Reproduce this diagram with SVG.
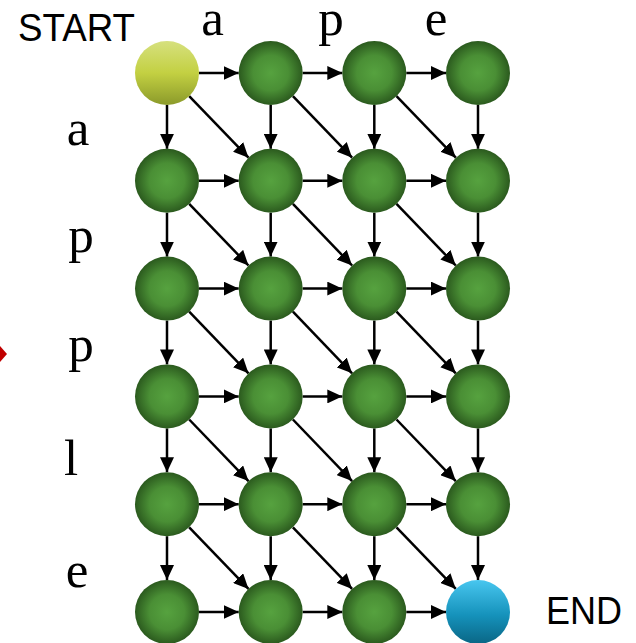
<svg xmlns="http://www.w3.org/2000/svg" width="636" height="643" viewBox="0 0 636 643">
<defs>
<radialGradient id="gGreen" cx="50%" cy="50%" r="50%">
<stop offset="0" stop-color="#56a23f"/>
<stop offset="0.55" stop-color="#4a8f35"/>
<stop offset="1" stop-color="#2b5a1e"/>
</radialGradient>
<linearGradient id="gStart" x1="0" y1="0" x2="0" y2="1">
<stop offset="0" stop-color="#d6e07e"/>
<stop offset="0.5" stop-color="#c3d042"/>
<stop offset="1" stop-color="#8b9a2a"/>
</linearGradient>
<linearGradient id="gEnd" x1="0" y1="0" x2="0" y2="1">
<stop offset="0" stop-color="#48c6ef"/>
<stop offset="0.55" stop-color="#1592bb"/>
<stop offset="1" stop-color="#0a6685"/>
</linearGradient>
<marker id="ah" markerUnits="userSpaceOnUse" markerWidth="15" markerHeight="14" refX="15" refY="7" orient="auto">
<path d="M0,0 L15,7 L0,14 z" fill="#000"/>
</marker>
</defs>
<style>
.e{stroke:#000;stroke-width:2.5;fill:none;marker-end:url(#ah)}
.n{fill:url(#gGreen)}
.lab{font-family:"Liberation Serif","Times New Roman",serif;font-size:51px;fill:#000;text-anchor:middle}
.sans{font-family:"Liberation Sans",Arial,sans-serif;font-size:39px;fill:#000}
</style>
<polygon points="0,346 7,354 0,362" fill="#c00000"/>
<g id="labels">
<text class="sans" x="18" y="41" textLength="117" lengthAdjust="spacingAndGlyphs">START</text>
<text class="sans" x="546" y="624" textLength="76" lengthAdjust="spacingAndGlyphs">END</text>
<text class="lab" x="212.5" y="35">a</text>
<text class="lab" x="331" y="35">p</text>
<text class="lab" x="436" y="35">e</text>
<text class="lab" x="78" y="145">a</text>
<text class="lab" x="81" y="252">p</text>
<text class="lab" x="81" y="361">p</text>
<text class="lab" x="71" y="475">l</text>
<text class="lab" x="77" y="587">e</text>
</g>
<g id="connectors">
<line class="e" x1="199" y1="73" x2="238.7" y2="73"/><line class="e" x1="302.7" y1="73" x2="342.3" y2="73"/><line class="e" x1="406.3" y1="73" x2="446" y2="73"/>
<line class="e" x1="199" y1="180.8" x2="238.7" y2="180.8"/><line class="e" x1="302.7" y1="180.8" x2="342.3" y2="180.8"/><line class="e" x1="406.3" y1="180.8" x2="446" y2="180.8"/>
<line class="e" x1="199" y1="288.6" x2="238.7" y2="288.6"/><line class="e" x1="302.7" y1="288.6" x2="342.3" y2="288.6"/><line class="e" x1="406.3" y1="288.6" x2="446" y2="288.6"/>
<line class="e" x1="199" y1="396.4" x2="238.7" y2="396.4"/><line class="e" x1="302.7" y1="396.4" x2="342.3" y2="396.4"/><line class="e" x1="406.3" y1="396.4" x2="446" y2="396.4"/>
<line class="e" x1="199" y1="504.2" x2="238.7" y2="504.2"/><line class="e" x1="302.7" y1="504.2" x2="342.3" y2="504.2"/><line class="e" x1="406.3" y1="504.2" x2="446" y2="504.2"/>
<line class="e" x1="199" y1="612" x2="238.7" y2="612"/><line class="e" x1="302.7" y1="612" x2="342.3" y2="612"/><line class="e" x1="406.3" y1="612" x2="446" y2="612"/>
<line class="e" x1="167" y1="105" x2="167" y2="148.8"/><line class="e" x1="167" y1="212.8" x2="167" y2="256.6"/><line class="e" x1="167" y1="320.6" x2="167" y2="364.4"/><line class="e" x1="167" y1="428.4" x2="167" y2="472.2"/><line class="e" x1="167" y1="536.2" x2="167" y2="580"/>
<line class="e" x1="270.7" y1="105" x2="270.7" y2="148.8"/><line class="e" x1="270.7" y1="212.8" x2="270.7" y2="256.6"/><line class="e" x1="270.7" y1="320.6" x2="270.7" y2="364.4"/><line class="e" x1="270.7" y1="428.4" x2="270.7" y2="472.2"/><line class="e" x1="270.7" y1="536.2" x2="270.7" y2="580"/>
<line class="e" x1="374.3" y1="105" x2="374.3" y2="148.8"/><line class="e" x1="374.3" y1="212.8" x2="374.3" y2="256.6"/><line class="e" x1="374.3" y1="320.6" x2="374.3" y2="364.4"/><line class="e" x1="374.3" y1="428.4" x2="374.3" y2="472.2"/><line class="e" x1="374.3" y1="536.2" x2="374.3" y2="580"/>
<line class="e" x1="478" y1="105" x2="478" y2="148.8"/><line class="e" x1="478" y1="212.8" x2="478" y2="256.6"/><line class="e" x1="478" y1="320.6" x2="478" y2="364.4"/><line class="e" x1="478" y1="428.4" x2="478" y2="472.2"/><line class="e" x1="478" y1="536.2" x2="478" y2="580"/>
<line class="e" x1="189.2" y1="96.1" x2="248.5" y2="157.7"/><line class="e" x1="292.9" y1="96.1" x2="352.1" y2="157.7"/><line class="e" x1="396.5" y1="96.1" x2="455.8" y2="157.7"/>
<line class="e" x1="189.2" y1="203.9" x2="248.5" y2="265.5"/><line class="e" x1="292.9" y1="203.9" x2="352.1" y2="265.5"/><line class="e" x1="396.5" y1="203.9" x2="455.8" y2="265.5"/>
<line class="e" x1="189.2" y1="311.7" x2="248.5" y2="373.3"/><line class="e" x1="292.9" y1="311.7" x2="352.1" y2="373.3"/><line class="e" x1="396.5" y1="311.7" x2="455.8" y2="373.3"/>
<line class="e" x1="189.2" y1="419.5" x2="248.5" y2="481.1"/><line class="e" x1="292.9" y1="419.5" x2="352.1" y2="481.1"/><line class="e" x1="396.5" y1="419.5" x2="455.8" y2="481.1"/>
<line class="e" x1="189.2" y1="527.3" x2="248.5" y2="588.9"/><line class="e" x1="292.9" y1="527.3" x2="352.1" y2="588.9"/><line class="e" x1="396.5" y1="527.3" x2="455.8" y2="588.9"/>
</g>
<g id="n00"><circle cx="167" cy="73" r="32" fill="url(#gStart)"/></g>
<g id="n01"><circle class="n" cx="270.7" cy="73" r="32"/></g>
<g id="n02"><circle class="n" cx="374.3" cy="73" r="32"/></g>
<g id="n03"><circle class="n" cx="478" cy="73" r="32"/></g>
<g id="n10"><circle class="n" cx="167" cy="180.8" r="32"/></g>
<g id="n11"><circle class="n" cx="270.7" cy="180.8" r="32"/></g>
<g id="n12"><circle class="n" cx="374.3" cy="180.8" r="32"/></g>
<g id="n13"><circle class="n" cx="478" cy="180.8" r="32"/></g>
<g id="n20"><circle class="n" cx="167" cy="288.6" r="32"/></g>
<g id="n21"><circle class="n" cx="270.7" cy="288.6" r="32"/></g>
<g id="n22"><circle class="n" cx="374.3" cy="288.6" r="32"/></g>
<g id="n23"><circle class="n" cx="478" cy="288.6" r="32"/></g>
<g id="n30"><circle class="n" cx="167" cy="396.4" r="32"/></g>
<g id="n31"><circle class="n" cx="270.7" cy="396.4" r="32"/></g>
<g id="n32"><circle class="n" cx="374.3" cy="396.4" r="32"/></g>
<g id="n33"><circle class="n" cx="478" cy="396.4" r="32"/></g>
<g id="n40"><circle class="n" cx="167" cy="504.2" r="32"/></g>
<g id="n41"><circle class="n" cx="270.7" cy="504.2" r="32"/></g>
<g id="n42"><circle class="n" cx="374.3" cy="504.2" r="32"/></g>
<g id="n43"><circle class="n" cx="478" cy="504.2" r="32"/></g>
<g id="n50"><circle class="n" cx="167" cy="612" r="32"/></g>
<g id="n51"><circle class="n" cx="270.7" cy="612" r="32"/></g>
<g id="n52"><circle class="n" cx="374.3" cy="612" r="32"/></g>
<g id="n53"><circle cx="478" cy="612" r="32" fill="url(#gEnd)"/></g>
</svg>
